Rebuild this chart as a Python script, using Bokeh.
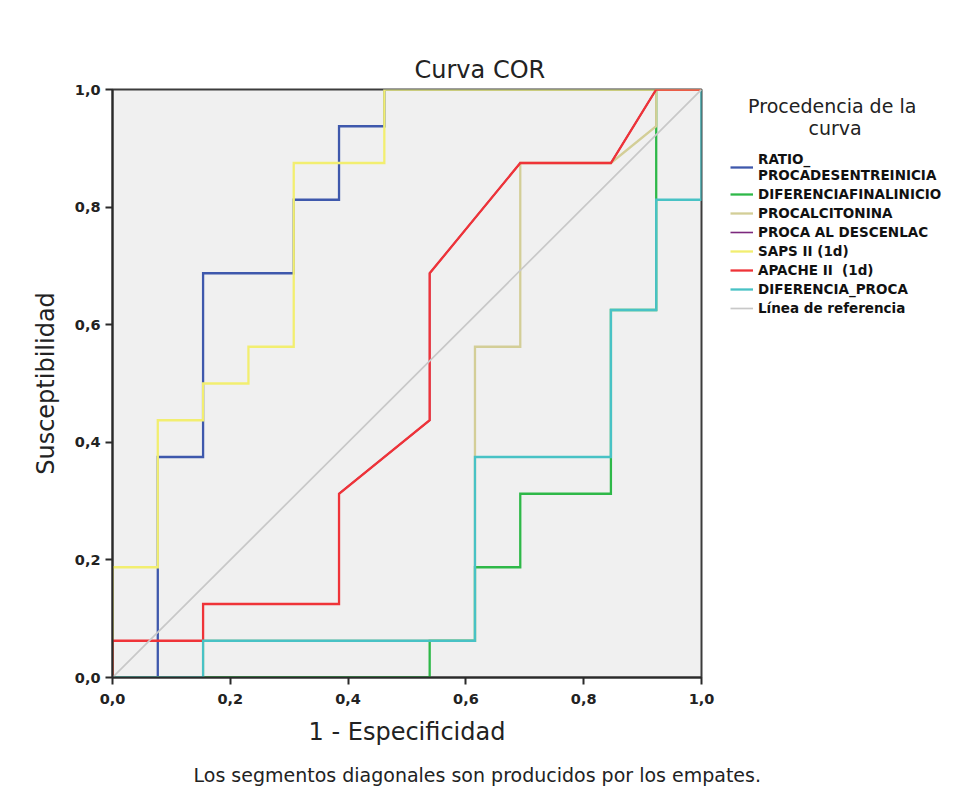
from bokeh.plotting import figure
from bokeh.models import Range1d, FixedTicker, CustomJSTickFormatter, Legend, LegendItem, Title
from bokeh.embed import file_html
from bokeh.resources import INLINE

# ---- data ----
series_names = ["RATIO_\nPROCADESENTREINICIA", "DIFERENCIAFINALINICIO", "PROCALCITONINA",
                "PROCA AL DESCENLAC", "SAPS II (1d)", "APACHE II  (1d)", "DIFERENCIA_PROCA"]

ratio_x = [0, 0.0769, 0.0769, 0.1538, 0.1538, 0.3077, 0.3077, 0.3846, 0.3846, 0.4615, 0.4615, 1.0]
ratio_y = [0, 0, 0.375, 0.375, 0.6875, 0.6875, 0.8125, 0.8125, 0.9375, 0.9375, 1.0, 1.0]

diffin_x = [0, 0.5385, 0.5385, 0.6154, 0.6154, 0.6923, 0.6923, 0.8462, 0.8462, 0.9231, 0.9231, 1.0]
diffin_y = [0, 0, 0.0625, 0.0625, 0.1875, 0.1875, 0.3125, 0.3125, 0.625, 0.625, 1.0, 1.0]

procal_x = [0, 0.1538, 0.1538, 0.6154, 0.6154, 0.6923, 0.6923, 0.8462, 0.9231, 0.9231, 1.0]
procal_y = [0, 0, 0.0625, 0.0625, 0.5625, 0.5625, 0.875, 0.875, 0.9375, 1.0, 1.0]

apache_x = [0, 0, 0.1538, 0.1538, 0.3846, 0.3846, 0.5385, 0.5385, 0.6923, 0.8462, 0.9231, 1.0]
apache_y = [0, 0.0625, 0.0625, 0.125, 0.125, 0.3125, 0.4375, 0.6875, 0.875, 0.875, 1.0, 1.0]

descen_x = apache_x
descen_y = apache_y

saps_x = [0, 0, 0.0769, 0.0769, 0.1538, 0.1538, 0.2308, 0.2308, 0.3077, 0.3077, 0.4615, 0.4615, 1.0]
saps_y = [0, 0.1875, 0.1875, 0.4375, 0.4375, 0.5, 0.5, 0.5625, 0.5625, 0.875, 0.875, 1.0, 1.0]

difpro_x = [0, 0.1538, 0.1538, 0.6154, 0.6154, 0.8462, 0.8462, 0.9231, 0.9231, 1.0, 1.0]
difpro_y = [0, 0, 0.0625, 0.0625, 0.375, 0.375, 0.625, 0.625, 0.8125, 0.8125, 1.0]

ref_x = [0, 1]
ref_y = [0, 1]

tick_values = [0.0, 0.2, 0.4, 0.6, 0.8, 1.0]
tick_labels = ["0,0", "0,2", "0,4", "0,6", "0,8", "1,0"]

legend_title = "\u00a0\u00a0\u00a0Procedencia de la\n" + "\u00a0" * 13 + "curva"

colors = ["#3e58ac", "#2eb848", "#d3ce97", "#7c287d", "#f2ee70", "#ef3338", "#48c2c5"]
ref_color = "#c8c8c8"

FONT = "DejaVu Sans"

p = figure(frame_width=589, frame_height=588, output_backend="svg", toolbar_location=None,
           x_range=Range1d(0, 1), y_range=Range1d(0, 1),
           min_border_left=112, min_border_right=251, min_border_top=89, min_border_bottom=60,
           title="Curva COR")
p.background_fill_color = "#f0f0f0"
p.border_fill_color = "white"
p.outline_line_color = "#3c3c3c"
p.outline_line_width = 2
p.grid.visible = False

p.title.text_font = FONT
p.title.text_font_size = "24px"
p.title.text_font_style = "normal"
p.title.text_color = "#222222"
p.title.align = "left"
p.title.offset = 302
p.title.standoff = 11

fmt = CustomJSTickFormatter(args=dict(vals=tick_values, labs=tick_labels), code="""
const i = vals.findIndex(v => Math.abs(v - tick) < 1e-9);
return i >= 0 ? labs[i] : '';
""")
for ax in (p.xaxis[0], p.yaxis[0]):
    ax.ticker = FixedTicker(ticks=tick_values)
    ax.formatter = fmt
    ax.minor_tick_line_color = None
    ax.major_tick_in = 0
    ax.major_tick_out = 7
    ax.major_tick_line_color = "#2a2a2a"
    ax.major_tick_line_width = 2
    ax.axis_line_color = "#2a2a2a"
    ax.axis_line_width = 2
    ax.major_label_text_font = FONT
    ax.major_label_text_font_style = "bold"
    ax.major_label_text_font_size = "14.5px"
    ax.major_label_text_color = "#222222"
    ax.axis_label_text_font = FONT
    ax.axis_label_text_font_style = "normal"
    ax.axis_label_text_font_size = "24px"
    ax.axis_label_text_color = "#222222"

p.xaxis.axis_label = "1 - Especificidad"
p.yaxis.axis_label = "Susceptibilidad"
p.xaxis.major_label_standoff = 9
p.xaxis.axis_label_standoff = 11
p.yaxis.major_label_standoff = 5
p.yaxis.axis_label_standoff = 12

xs = [ratio_x, diffin_x, procal_x, descen_x, saps_x, apache_x, difpro_x]
ys = [ratio_y, diffin_y, procal_y, descen_y, saps_y, apache_y, difpro_y]
widths = [2.3, 2.3, 2.3, 1.6, 2.3, 2.3, 2.3]
items = []
for name, x, y, c, w in zip(series_names, xs, ys, colors, widths):
    r = p.line(x, y, line_color=c, line_width=w, line_join="miter")
    items.append(LegendItem(label=name, renderers=[r]))
rr = p.line(ref_x, ref_y, line_color=ref_color, line_width=1.7)
items.append(LegendItem(label="Línea de referencia", renderers=[rr]))

legend = Legend(items=items, location=(29, 361), padding=0, margin=0,
                glyph_width=23, glyph_height=12, label_standoff=5, label_height=12,
                spacing=3, border_line_alpha=0, background_fill_alpha=0,
                label_text_font=FONT, label_text_font_style="bold",
                label_text_font_size="13.5px", label_text_color="#111111",
                label_text_line_height=0.95,
                title=legend_title, title_text_font=FONT, title_text_font_size="19px",
                title_text_font_style="normal", title_text_color="#222222",
                title_standoff=12)
p.add_layout(legend, "right")

foot = Title(text="Los segmentos diagonales son producidos por los empates.",
             align="left", offset=81, standoff=26,
             text_font=FONT, text_font_size="19px", text_font_style="normal",
             text_color="#222222")
p.add_layout(foot, "below")

open("out.html", "w").write(file_html(p, INLINE))
